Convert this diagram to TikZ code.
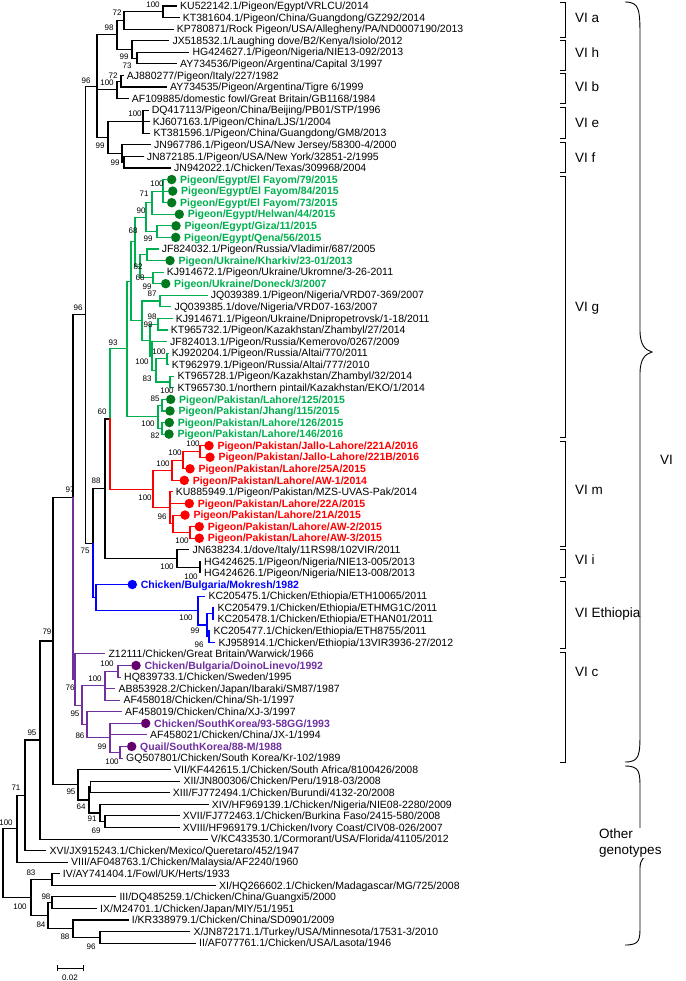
\documentclass[tikz,border=0pt]{standalone}
\usepackage{fontspec}
\setmainfont{Liberation Sans}
\usetikzlibrary{calc}
\definecolor{vg}{RGB}{0,176,80}
\definecolor{vgd}{RGB}{0,120,30}
\definecolor{vr}{RGB}{255,0,0}
\definecolor{vb}{RGB}{0,0,255}
\definecolor{vp}{RGB}{112,48,160}
\definecolor{vpd}{RGB}{100,0,110}
\tikzset{
 lbl/.style={inner sep=0pt, font=\fontsize{10.5}{12}\selectfont, anchor=base west},
 clbl/.style={inner sep=0pt, font=\fontsize{10.5}{12}\selectfont\bfseries, anchor=base west},
 bsl/.style={inner sep=0pt, font=\fontsize{8}{9}\selectfont},
 dot/.style={circle, inner sep=0pt, minimum size=9.5pt},
 brl/.style={line width=1.1pt, line cap=rect},
 grp/.style={inner sep=0pt, font=\fontsize{13.5}{16}\selectfont, anchor=west},
 brk/.style={line width=0.9pt},
}
\newcommand\Ly[1]{{6+(#1-1)*11.57}}
\newcommand\bleaf[3]{\coordinate (L#1) at (#2,\Ly{#1}); \node[lbl] (T#1) at ([xshift=3.5pt,yshift=-3.7pt]L#1) {#3};}
\newcommand\cleaf[5]{\coordinate (L#1) at ({#2-4.5},\Ly{#1}); \node[dot,fill=#4] (D#1) at (#2,\Ly{#1}) {}; \node[clbl,text=#3] (T#1) at ([xshift=8.3pt,yshift=-3.7pt]D#1.center) {#5};}
\newcommand\inode[4]{\path let \p1=($(#3)!0.5!(#4)$) in coordinate (#1) at (#2pt,\y1);}
\newcommand\br[3][black]{\draw[brl,#1] (#2) |- (#3);}
\newcommand\grpb[5]{\draw[brk] (560,#2) -- (565,#2) -- (565,#3) -- (560,#3); \node[grp] (#1) at (575,#5) {#4};}
\begin{document}
\begin{tikzpicture}[x=1pt,y=-1pt]
\fill[white] (0,0) rectangle (685,981);
\useasboundingbox (0,0) rectangle (685,981);
% ---------- leaves ----------
\bleaf{1}{176.5}{KU522142.1/Pigeon/Egypt/VRLCU/2014}
\bleaf{2}{179.2}{KT381604.1/Pigeon/China/Guangdong/GZ292/2014}
\bleaf{3}{173.2}{KP780871/Rock Pigeon/USA/Allegheny/PA/ND0007190/2013}
\bleaf{4}{168.8}{JX518532.1/Laughing dove/B2/Kenya/Isiolo/2012}
\bleaf{5}{188.8}{HG424627.1/Pigeon/Nigeria/NIE13-092/2013}
\bleaf{6}{176.5}{AY734536/Pigeon/Argentina/Capital 3/1997}
\bleaf{7}{123.2}{AJ880277/Pigeon/Italy/227/1982}
\bleaf{8}{166.5}{AY734535/Pigeon/Argentina/Tigre 6/1999}
\bleaf{9}{128.2}{AF109885/domestic fowl/Great Britain/GB1168/1984}
\bleaf{10}{148.2}{DQ417113/Pigeon/China/Beijing/PB01/STP/1996}
\bleaf{11}{149.2}{KJ607163.1/Pigeon/China/LJS/1/2004}
\bleaf{12}{149.8}{KT381596.1/Pigeon/China/Guangdong/GM8/2013}
\bleaf{13}{150.5}{JN967786.1/Pigeon/USA/New Jersey/58300-4/2000}
\bleaf{14}{143.2}{JN872185.1/Pigeon/USA/New York/32851-2/1995}
\bleaf{15}{170.5}{JN942022.1/Chicken/Texas/309968/2004}
\cleaf{16}{171.7}{vg}{vgd}{Pigeon/Egypt/El Fayom/79/2015}
\cleaf{17}{172.7}{vg}{vgd}{Pigeon/Egypt/El Fayom/84/2015}
\cleaf{18}{171.7}{vg}{vgd}{Pigeon/Egypt/El Fayom/73/2015}
\cleaf{19}{179.3}{vg}{vgd}{Pigeon/Egypt/Helwan/44/2015}
\cleaf{20}{176.0}{vg}{vgd}{Pigeon/Egypt/Giza/11/2015}
\cleaf{21}{175.7}{vg}{vgd}{Pigeon/Egypt/Qena/56/2015}
\bleaf{22}{158.2}{JF824032.1/Pigeon/Russia/Vladimir/687/2005}
\cleaf{23}{170.0}{vg}{vgd}{Pigeon/Ukraine/Kharkiv/23-01/2013}
\bleaf{24}{163.2}{KJ914672.1/Pigeon/Ukraine/Ukromne/3-26-2011}
\cleaf{25}{165.7}{vg}{vgd}{Pigeon/Ukraine/Doneck/3/2007}
\bleaf{26}{207.2}{JQ039389.1/Pigeon/Nigeria/VRD07-369/2007}
\bleaf{27}{170.8}{JQ039385.1/dove/Nigeria/VRD07-163/2007}
\bleaf{28}{172.2}{KJ914671.1/Pigeon/Ukraine/Dnipropetrovsk/1-18/2011}
\bleaf{29}{167.2}{KT965732.1/Pigeon/Kazakhstan/Zhambyl/27/2014}
\bleaf{30}{166.5}{JF824013.1/Pigeon/Russia/Kemerovo/0267/2009}
\bleaf{31}{168.2}{KJ920204.1/Pigeon/Russia/Altai/770/2011}
\bleaf{32}{168.2}{KT962979.1/Pigeon/Russia/Altai/777/2010}
\bleaf{33}{173.8}{KT965728.1/Pigeon/Kazakhstan/Zhambyl/32/2014}
\bleaf{34}{173.8}{KT965730.1/northern pintail/Kazakhstan/EKO/1/2014}
\cleaf{35}{170.7}{vg}{vgd}{Pigeon/Pakistan/Lahore/125/2015}
\cleaf{36}{170.0}{vg}{vgd}{Pigeon/Pakistan/Jhang/115/2015}
\cleaf{37}{169.3}{vg}{vgd}{Pigeon/Pakistan/Lahore/126/2015}
\cleaf{38}{169.0}{vg}{vgd}{Pigeon/Pakistan/Lahore/146/2016}
\cleaf{39}{209.0}{vr}{vr}{Pigeon/Pakistan/Jallo-Lahore/221A/2016}
\cleaf{40}{210.0}{vr}{vr}{Pigeon/Pakistan/Jallo-Lahore/221B/2016}
\cleaf{41}{190.0}{vr}{vr}{Pigeon/Pakistan/Lahore/25A/2015}
\cleaf{42}{184.3}{vr}{vr}{Pigeon/Pakistan/Lahore/AW-1/2014}
\bleaf{43}{172.2}{KU885949.1/Pigeon/Pakistan/MZS-UVAS-Pak/2014}
\cleaf{44}{189.3}{vr}{vr}{Pigeon/Pakistan/Lahore/22A/2015}
\cleaf{45}{185.0}{vr}{vr}{Pigeon/Pakistan/Lahore/21A/2015}
\cleaf{46}{199.3}{vr}{vr}{Pigeon/Pakistan/Lahore/AW-2/2015}
\cleaf{47}{199.3}{vr}{vr}{Pigeon/Pakistan/Lahore/AW-3/2015}
\bleaf{48}{188.8}{JN638234.1/dove/Italy/11RS98/102VIR/2011}
\bleaf{49}{200.5}{HG424625.1/Pigeon/Nigeria/NIE13-005/2013}
\bleaf{50}{200.5}{HG424626.1/Pigeon/Nigeria/NIE13-008/2013}
\cleaf{51}{132.3}{vb}{vb}{Chicken/Bulgaria/Mokresh/1982}
\bleaf{52}{204.8}{KC205475.1/Chicken/Ethiopia/ETH10065/2011}
\bleaf{53}{213.8}{KC205479.1/Chicken/Ethiopia/ETHMG1C/2011}
\bleaf{54}{213.8}{KC205478.1/Chicken/Ethiopia/ETHAN01/2011}
\bleaf{55}{209.8}{KC205477.1/Chicken/Ethiopia/ETH8755/2011}
\bleaf{56}{214.8}{KJ958914.1/Chicken/Ethiopia/13VIR3936-27/2012}
\bleaf{57}{104.8}{Z12111/Chicken/Great Britain/Warwick/1966}
\cleaf{58}{136.0}{vp}{vpd}{Chicken/Bulgaria/DoinoLinevo/1992}
\bleaf{59}{120.5}{HQ839733.1/Chicken/Sweden/1995}
\bleaf{60}{114.8}{AB853928.2/Chicken/Japan/Ibaraki/SM87/1987}
\bleaf{61}{119.8}{AF458018/Chicken/China/Sh-1/1997}
\bleaf{62}{121.5}{AF458019/Chicken/China/XJ-3/1997}
\cleaf{63}{145.7}{vp}{vpd}{Chicken/SouthKorea/93-58GG/1993}
\bleaf{64}{146.5}{AF458021/Chicken/China/JX-1/1994}
\cleaf{65}{131.7}{vp}{vpd}{Quail/SouthKorea/88-M/1988}
\bleaf{66}{122.5}{GQ507801/Chicken/South Korea/Kr-102/1989}
\bleaf{67}{170.5}{VII/KF442615.1/Chicken/South Africa/8100426/2008}
\bleaf{68}{179.8}{XII/JN800306/Chicken/Peru/1918-03/2008}
\bleaf{69}{169.2}{XIII/FJ772494.1/Chicken/Burundi/4132-20/2008}
\bleaf{70}{208.2}{XIV/HF969139.1/Chicken/Nigeria/NIE08-2280/2009}
\bleaf{71}{179.2}{XVII/FJ772463.1/Chicken/Burkina Faso/2415-580/2008}
\bleaf{72}{179.2}{XVIII/HF969179.1/Chicken/Ivory Coast/CIV08-026/2007}
\bleaf{73}{207.2}{V/KC433530.1/Cormorant/USA/Florida/41105/2012}
\bleaf{74}{45.8}{XVI/JX915243.1/Chicken/Mexico/Queretaro/452/1947}
\bleaf{75}{67.5}{VIII/AF048763.1/Chicken/Malaysia/AF2240/1960}
\bleaf{76}{59.2}{IV/AY741404.1/Fowl/UK/Herts/1933}
\bleaf{77}{215.5}{XI/HQ266602.1/Chicken/Madagascar/MG/725/2008}
\bleaf{78}{115.8}{III/DQ485259.1/Chicken/China/Guangxi5/2000}
\bleaf{79}{96.5}{IX/M24701.1/Chicken/Japan/MIY/51/1951}
\bleaf{80}{128.2}{I/KR338979.1/Chicken/China/SD0901/2009}
\bleaf{81}{189.8}{X/JN872171.1/Turkey/USA/Minnesota/17531-3/2010}
\bleaf{82}{195.5}{II/AF077761.1/Chicken/USA/Lasota/1946}
% ---------- internal nodes ----------
\inode{n1}{163}{L1}{L2}
\inode{n2}{124}{n1}{L3}
\inode{n3}{137}{L5}{L6}
\inode{n4}{132}{L4}{n3}
\inode{n5}{117}{n2}{n4}
\inode{n7}{121}{L7}{L8}
\inode{n8}{117}{n7}{L9}
\inode{n11}{143}{L10}{L12}
\inode{n12}{124}{L14}{L15}
\inode{n13}{122}{L13}{n12}
\inode{n9}{108}{n11}{n13}
\inode{n6}{97}{n5}{n9}
% green
\inode{g1}{163}{L16}{L18}
\inode{g2}{152}{g1}{L19}
\inode{g4}{157}{L20}{L21}
\inode{g3}{146}{g2}{g4}
\inode{g5}{147}{L22}{L23}
\inode{g6}{153}{L24}{L25}
\inode{g7}{140}{g5}{g6}
\inode{g8}{135}{g3}{g7}
\inode{gA}{160}{L26}{L27}
\inode{gB}{158}{L28}{L29}
\inode{gC}{167}{L31}{L32}
\inode{gD}{170}{L33}{L34}
\inode{gE}{156}{gC}{gD}
\inode{gF}{152}{L30}{gE}
\inode{gG}{150}{gB}{gF}
\inode{gH}{142}{gA}{gG}
\inode{gT}{131}{g8}{gH}
\inode{pk1}{162}{L35}{L36}
\inode{pk2}{162}{L37}{L38}
\inode{pk3}{158}{pk1}{pk2}
\inode{G0}{127}{gT}{pk3}
% red
\inode{r1}{200}{L39}{L40}
\inode{r2}{183}{r1}{L41}
\inode{r3}{172}{r2}{L42}
\inode{r8}{190}{L46}{L47}
\inode{r7}{173}{L45}{r8}
\inode{r6}{170}{L43}{r7}
\inode{r4}{153}{r3}{r6}
\inode{N60}{110}{G0}{r4}
\inode{ni1}{200}{L49}{L50}
\inode{ni2}{177}{L48}{ni1}
\inode{N88}{105}{N60}{ni2}
% blue
\inode{e1}{213}{L53}{L54}
\inode{e2}{209}{L55}{L56}
\inode{e3}{207}{e1}{e2}
\inode{e4}{198}{L52}{e3}
\inode{Nb}{96}{L51}{e4}
\inode{Nr}{93}{N88}{Nb}
\inode{N85}{85.5}{n6}{Nr}
% purple
\inode{c1}{118}{L58}{L59}
\inode{c2}{105}{c1}{L61}
\inode{c5}{120}{L65}{L66}
\inode{c6}{110}{L63}{c5}
\inode{c7}{87}{L62}{c6}
\inode{c8}{82}{c2}{c7}
\inode{c9}{75}{L57}{c8}
\inode{N73}{73}{N85}{c9}
% others
\inode{o5}{105}{L71}{L72}
\inode{o4}{100}{L70}{o5}
\inode{o3}{90.5}{L68}{L69}
\inode{o2}{89}{o3}{o4}
\inode{o1}{78}{L67}{o2}
\inode{N79}{53}{N73}{o1}
\inode{N95}{40}{N79}{L73}
\inode{n25}{25}{N95}{L74}
\inode{n17}{17}{n25}{L75}
\inode{p1}{52}{L76}{L77}
\inode{p4}{52}{L78}{L79}
\inode{p6}{100}{L81}{L82}
\inode{p5}{73}{L80}{p6}
\inode{p3}{48}{p4}{p5}
\inode{p2}{31}{p1}{p3}
\inode{root}{3}{n17}{p2}
% ---------- branches ----------
\br{n1}{L1}\br{n1}{L2}\br{n2}{n1}\br{n2}{L3}
\br{n3}{L5}\br{n3}{L6}\br{n4}{L4}\br{n4}{n3}
\br{n5}{n2}\br{n5}{n4}
\br{n7}{L7}\br{n7}{L8}\br{n8}{n7}\br{n8}{L9}
\br{n11}{L10}\br{n11}{L11}\br{n11}{L12}
\br{n12}{L14}\br{n12}{L15}\br{n13}{L13}\br{n13}{n12}
\br{n9}{n11}\br{n9}{n13}
\br{n6}{n5}\br{n6}{n8}\br{n6}{n9}
\br{N88}{N60}\br{N88}{ni2}
\br{ni1}{L49}\br{ni1}{L50}\br{ni2}{L48}\br{ni2}{ni1}
\br{Nr}{N88}\br{N85}{n6}\br{N85}{Nr}\br{N73}{N85}
\br{o5}{L71}\br{o5}{L72}\br{o4}{L70}\br{o4}{o5}
\br{o3}{L68}\br{o3}{L69}\br{o2}{o3}\br{o2}{o4}
\br{o1}{L67}\br{o1}{o2}
\br{N79}{N73}\br{N79}{o1}\br{N95}{N79}\br{N95}{L73}
\br{n25}{N95}\br{n25}{L74}\br{n17}{n25}\br{n17}{L75}
\br{p1}{L76}\br{p1}{L77}\br{p4}{L78}\br{p4}{L79}
\br{p6}{L81}\br{p6}{L82}\br{p5}{L80}\br{p5}{p6}
\br{p3}{p4}\br{p3}{p5}\br{p2}{p1}\br{p2}{p3}
\br{root}{n17}\br{root}{p2}
% green
\br[vg]{N60}{G0}
\br[vg]{g1}{L16}\br[vg]{g1}{L17}\br[vg]{g1}{L18}
\br[vg]{g2}{g1}\br[vg]{g2}{L19}
\br[vg]{g4}{L20}\br[vg]{g4}{L21}\br[vg]{g3}{g2}\br[vg]{g3}{g4}
\br[vg]{g5}{L22}\br[vg]{g5}{L23}\br[vg]{g6}{L24}\br[vg]{g6}{L25}
\br[vg]{g7}{g5}\br[vg]{g7}{g6}\br[vg]{g8}{g3}\br[vg]{g8}{g7}
\br[vg]{gA}{L26}\br[vg]{gA}{L27}\br[vg]{gB}{L28}\br[vg]{gB}{L29}
\br[vg]{gC}{L31}\br[vg]{gC}{L32}\br[vg]{gD}{L33}\br[vg]{gD}{L34}
\br[vg]{gE}{gC}\br[vg]{gE}{gD}\br[vg]{gF}{L30}\br[vg]{gF}{gE}
\br[vg]{gG}{gB}\br[vg]{gG}{gF}\br[vg]{gH}{gA}\br[vg]{gH}{gG}
\br[vg]{gT}{g8}\br[vg]{gT}{gH}
\br[vg]{pk1}{L35}\br[vg]{pk1}{L36}\br[vg]{pk2}{L37}\br[vg]{pk2}{L38}
\br[vg]{pk3}{pk1}\br[vg]{pk3}{pk2}
\br[vg]{G0}{gT}\br[vg]{G0}{pk3}
% red
\br[vr]{N60}{r4}
\br[vr]{r1}{L39}\br[vr]{r1}{L40}\br[vr]{r2}{r1}\br[vr]{r2}{L41}
\br[vr]{r3}{r2}\br[vr]{r3}{L42}
\br[vr]{r8}{L46}\br[vr]{r8}{L47}\br[vr]{r7}{L45}\br[vr]{r7}{r8}
\br[vr]{r6}{L43}\br[vr]{r6}{L44}\br[vr]{r6}{r7}
\br[vr]{r4}{r3}\br[vr]{r4}{r6}
% blue
\br[vb]{Nr}{Nb}
\br[vb]{Nb}{L51}\br[vb]{Nb}{e4}\br[vb]{e4}{L52}\br[vb]{e4}{e3}
\br[vb]{e3}{e1}\br[vb]{e3}{e2}
\br[vb]{e1}{L53}\br[vb]{e1}{L54}\br[vb]{e2}{L55}\br[vb]{e2}{L56}
% purple
\br[vp]{N73}{c9}
\br[vp]{c9}{L57}\br[vp]{c9}{c8}\br[vp]{c8}{c2}\br[vp]{c8}{c7}
\br[vp]{c2}{c1}\br[vp]{c2}{L60}\br[vp]{c2}{L61}
\br[vp]{c1}{L58}\br[vp]{c1}{L59}
\br[vp]{c7}{L62}\br[vp]{c7}{c6}
\br[vp]{c6}{L63}\br[vp]{c6}{L64}\br[vp]{c6}{c5}
\br[vp]{c5}{L65}\br[vp]{c5}{L66}
% ---------- bootstrap values ----------
\node[bsl] (b1) at (153,5) {100};
\node[bsl] (b2) at (117,13) {72};
\node[bsl] (b3) at (109,28) {98};
\node[bsl] (b4) at (124,57) {99};
\node[bsl] (b5) at (127,66) {73};
\node[bsl] (b6) at (86,81) {96};
\node[bsl] (b7) at (113,76) {72};
\node[bsl] (b8) at (107,83) {100};
\node[bsl] (b9) at (135,114) {100};
\node[bsl] (b10) at (100,146) {99};
\node[bsl] (b11) at (115,163) {99};
\node[bsl] (b12) at (157,184) {100};
\node[bsl] (b13) at (144,194) {71};
\node[bsl] (b14) at (141,211) {90};
\node[bsl] (b15) at (133,231) {68};
\node[bsl] (b16) at (148,239) {99};
\node[bsl] (b17) at (138,267) {82};
\node[bsl] (b18) at (140,278) {68};
\node[bsl] (b19) at (147,287) {99};
\node[bsl] (b20) at (152,294) {87};
\node[bsl] (b21) at (78,308) {96};
\node[bsl] (b22) at (152,317) {98};
\node[bsl] (b23) at (148,325) {98};
\node[bsl] (b24) at (113,343) {93};
\node[bsl] (b25) at (159,352) {100};
\node[bsl] (b26) at (142,362) {100};
\node[bsl] (b27) at (147,379) {83};
\node[bsl] (b28) at (167,391) {100};
\node[bsl] (b29) at (155,399) {85};
\node[bsl] (b30) at (102,412) {60};
\node[bsl] (b31) at (148,424) {100};
\node[bsl] (b32) at (155,436) {82};
\node[bsl] (b33) at (193,444) {100};
\node[bsl] (b34) at (175,453) {100};
\node[bsl] (b35) at (163,464) {100};
\node[bsl] (b36) at (96,481) {88};
\node[bsl] (b37) at (70,490) {97};
\node[bsl] (b38) at (145,498) {100};
\node[bsl] (b39) at (162,517) {96};
\node[bsl] (b40) at (182,541) {100};
\node[bsl] (b41) at (85,551) {75};
\node[bsl] (b42) at (167,567) {100};
\node[bsl] (b43) at (191,577) {100};
\node[bsl] (b44) at (186,618) {100};
\node[bsl] (b45) at (195,631) {99};
\node[bsl] (b46) at (199,645) {96};
\node[bsl] (b47) at (47,632) {79};
\node[bsl] (b48) at (107,664) {100};
\node[bsl] (b49) at (95,679) {100};
\node[bsl] (b50) at (70,688) {76};
\node[bsl] (b51) at (75,714) {95};
\node[bsl] (b52) at (80,736) {86};
\node[bsl] (b53) at (102,747) {99};
\node[bsl] (b54) at (112,762) {100};
\node[bsl] (b55) at (32,733) {95};
\node[bsl] (b56) at (16,788) {71};
\node[bsl] (b57) at (71,792) {95};
\node[bsl] (b58) at (81,807) {64};
\node[bsl] (b59) at (92,819) {91};
\node[bsl] (b60) at (96,831) {69};
\node[bsl] (b61) at (6,823) {100};
\node[bsl] (b62) at (31,873) {83};
\node[bsl] (b63) at (20,907) {100};
\node[bsl] (b64) at (46,897) {98};
\node[bsl] (b65) at (41,925) {84};
\node[bsl] (b66) at (65,937) {88};
\node[bsl] (b67) at (91,947) {96};
% ---------- scale bar ----------
\coordinate (s1) at (57,968);
\coordinate (s2) at (83,968);
\draw[line width=0.9pt] (s1) -- (s2);
\draw[line width=0.9pt] ([yshift=3pt]s1) -- ([yshift=-3pt]s1);
\draw[line width=0.9pt] ([yshift=3pt]s2) -- ([yshift=-3pt]s2);
\node[bsl] (sc) at (70,978) {0.02};
% ---------- group brackets ----------
\grpb{ga}{2}{37}{VI a}{18}
\grpb{gh}{40}{70}{VI h}{53}
\grpb{gb}{73}{103}{VI b}{87}
\grpb{ge}{107}{138}{VI e}{123}
\grpb{gf}{142}{172}{VI f}{158}
\grpb{gg}{176}{437}{VI g}{308}
\grpb{gm}{441}{546}{VI m}{490}
\grpb{gi}{549}{577}{VI i}{560}
\grpb{get}{581}{648}{VI Ethiopia}{614}
\grpb{gc}{652}{762}{VI c}{672}
\draw[brk] (625,2) .. controls (640,2) and (640,10) .. (640,40) -- (640,330) .. controls (640,345) and (645,350) .. (652,352) .. controls (645,354) and (640,359) .. (640,374) -- (640,730) .. controls (640,755) and (640,762) .. (625,762);
\node[grp] (gVI) at (660,460) {VI};
\draw[brk] (625,766) .. controls (640,766) and (640,772) .. (640,790) -- (640,840) .. controls (640,848) and (644,852) .. (650,854) .. controls (644,856) and (640,860) .. (640,868) -- (640,925) .. controls (640,940) and (640,945) .. (625,945);
\node[grp,align=left,fill=white,inner sep=1pt] (gOther) at (598,843) {Other\\genotypes};
\end{tikzpicture}
\end{document}
